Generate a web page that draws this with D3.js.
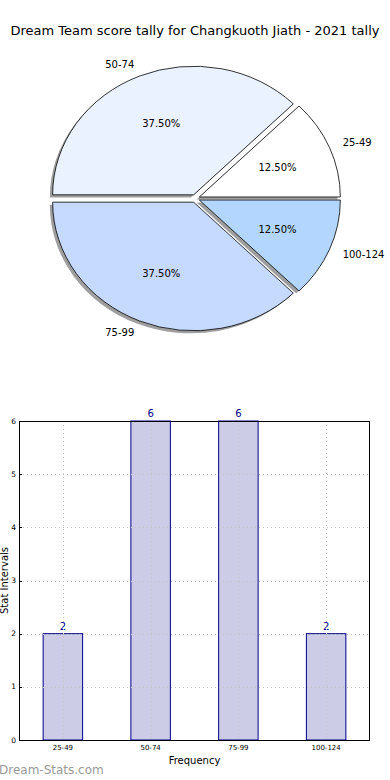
<!DOCTYPE html>
<html>
<head>
<meta charset="utf-8">
<script src="https://cdn.jsdelivr.net/npm/d3@7"></script>
<style>
  html, body { margin: 0; padding: 0; background: #fff; }
  svg { display: block; font-family: "DejaVu Sans", sans-serif; }
</style>
</head>
<body>
<svg id="chart" width="390" height="780"></svg>
<script>
const title = "Dream Team score tally for Changkuoth Jiath - 2021 tally";
const categories = ["25-49", "50-74", "75-99", "100-124"];
const counts = [2, 6, 6, 2];
const pieColors = ["#ffffff", "#eaf1ff", "#c6d9ff", "#b3d6ff"];
const yTicks = [0, 1, 2, 3, 4, 5, 6];
const xLabel = "Frequency";
const yLabel = "Stat Intervals";
const watermark = "Dream-Stats.com";

const svg = d3.select("#chart");

// Title
svg.append("text").attr("x", 195).attr("y", 34.5).attr("text-anchor", "middle")
  .attr("font-size", 13).attr("fill", "#000").text(title);

// ---------- Pie (elliptical, exploded, shadowed) ----------
const cx = 195.3, cy = 198.5, rx = 141, ry = 128.6, explode = 0.031;
const total = d3.sum(counts);
const pie = d3.pie().sort(null).startAngle(0).endAngle(2 * Math.PI);
const arcs = pie(counts);

function wedgePath(d, ox, oy) {
  const a0 = d.startAngle, a1 = d.endAngle;
  const mid = (a0 + a1) / 2;
  const x0 = cx + explode * rx * Math.cos(mid) + ox;
  const y0 = cy - explode * ry * Math.sin(mid) + oy;
  const sx = x0 + rx * Math.cos(a0), sy = y0 - ry * Math.sin(a0);
  const ex = x0 + rx * Math.cos(a1), ey = y0 - ry * Math.sin(a1);
  const large = (a1 - a0) > Math.PI ? 1 : 0;
  return `M${x0},${y0}L${sx},${sy}A${rx},${ry} 0 ${large} 0 ${ex},${ey}Z`;
}

const pieG = svg.append("g");
pieG.selectAll("path.shadow").data(arcs).enter().append("path")
  .attr("class", "shadow")
  .attr("d", d => wedgePath(d, -0.02 * rx, 0.02 * ry))
  .attr("fill", "#404040").attr("fill-opacity", 0.5).attr("stroke", "none");
pieG.selectAll("path.wedge").data(arcs).enter().append("path")
  .attr("class", "wedge")
  .attr("d", d => wedgePath(d, 0, 0))
  .attr("fill", (d, i) => pieColors[i])
  .attr("stroke", "#000").attr("stroke-width", 0.8).attr("stroke-linejoin", "miter");

arcs.forEach((d, i) => {
  const mid = (d.startAngle + d.endAngle) / 2;
  const c = Math.cos(mid), s = Math.sin(mid);
  const ox = explode * rx * c, oy = -explode * ry * s;
  const lx = cx + ox + 1.1 * rx * c, ly = cy + oy - 1.1 * ry * s;
  pieG.append("text").attr("x", lx).attr("y", ly).attr("dy", "0.35em")
    .attr("text-anchor", c < 0 ? "end" : "start")
    .attr("font-size", 10).attr("fill", "#000").text(categories[i]);
  const px = cx + ox + 0.6 * rx * c, py = cy + oy - 0.6 * ry * s;
  pieG.append("text").attr("x", px).attr("y", py).attr("dy", "0.35em")
    .attr("text-anchor", "middle").attr("font-size", 10).attr("fill", "#000")
    .text((d.data / total * 100).toFixed(2) + "%");
});

// ---------- Bar chart ----------
const pL = 19, pR = 370, pT = 421, pB = 740;
const x = d3.scaleLinear().domain([-0.5, categories.length - 0.5]).range([pL, pR]);
const y = d3.scaleLinear().domain([0, 6]).range([pB, pT]);
const barW = 0.45;

const barG = svg.append("g");
barG.selectAll("rect.bar").data(counts).enter().append("rect")
  .attr("class", "bar")
  .attr("x", (d, i) => x(i - barW / 2))
  .attr("width", (d, i) => x(i + barW / 2) - x(i - barW / 2))
  .attr("y", d => y(d)).attr("height", d => y(0) - y(d))
  .attr("fill", "#ccccE6").attr("stroke", "#00008b").attr("stroke-width", 1);

const gridG = svg.append("g").attr("stroke", "#c4c4c4").attr("stroke-width", 1)
  .attr("stroke-dasharray", "1,3");
gridG.selectAll("line.h").data(yTicks).enter().append("line")
  .attr("x1", pL).attr("x2", pR)
  .attr("y1", d => Math.round(y(d)) + 0.5).attr("y2", d => Math.round(y(d)) + 0.5);
gridG.selectAll("line.v").data(categories).enter().append("line")
  .attr("x1", (d, i) => Math.round(x(i)) + 0.5).attr("x2", (d, i) => Math.round(x(i)) + 0.5)
  .attr("y1", pT).attr("y2", pB);

svg.append("rect").attr("x", pL + 0.5).attr("y", pT + 0.5)
  .attr("width", pR - pL - 1).attr("height", pB - pT)
  .attr("fill", "none").attr("stroke", "#000").attr("stroke-width", 1);

const yAxisG = svg.append("g");
yAxisG.selectAll("text").data(yTicks).enter().append("text")
  .attr("x", pL - 3).attr("y", d => y(d)).attr("dy", "0.35em")
  .attr("text-anchor", "end").attr("font-size", 7.5).attr("fill", "#000").text(d => d);
yAxisG.selectAll("line").data(yTicks).enter().append("line")
  .attr("x1", pL).attr("x2", pL + 3)
  .attr("y1", d => Math.round(y(d)) + 0.5).attr("y2", d => Math.round(y(d)) + 0.5)
  .attr("stroke", "#000");

const xAxisG = svg.append("g");
xAxisG.selectAll("text").data(categories).enter().append("text")
  .attr("x", (d, i) => x(i)).attr("y", pB + 10)
  .attr("text-anchor", "middle").attr("font-size", 7).attr("fill", "#000").text(d => d);

barG.selectAll("text.val").data(counts).enter().append("text")
  .attr("class", "val")
  .attr("x", (d, i) => x(i)).attr("y", d => y(d) - 4)
  .attr("text-anchor", "middle").attr("font-size", 10).attr("fill", "#00008b").text(d => d);

svg.append("text").attr("x", (pL + pR) / 2).attr("y", 764)
  .attr("text-anchor", "middle").attr("font-size", 10).attr("fill", "#000").text(xLabel);
svg.append("text").attr("transform", `translate(8,${(pT + pB) / 2}) rotate(-90)`)
  .attr("text-anchor", "middle").attr("font-size", 10).attr("fill", "#000").text(yLabel);

svg.append("text").attr("x", -1).attr("y", 774)
  .attr("font-size", 12).attr("fill", "#9a9a9a").text(watermark);
</script>
</body>
</html>
